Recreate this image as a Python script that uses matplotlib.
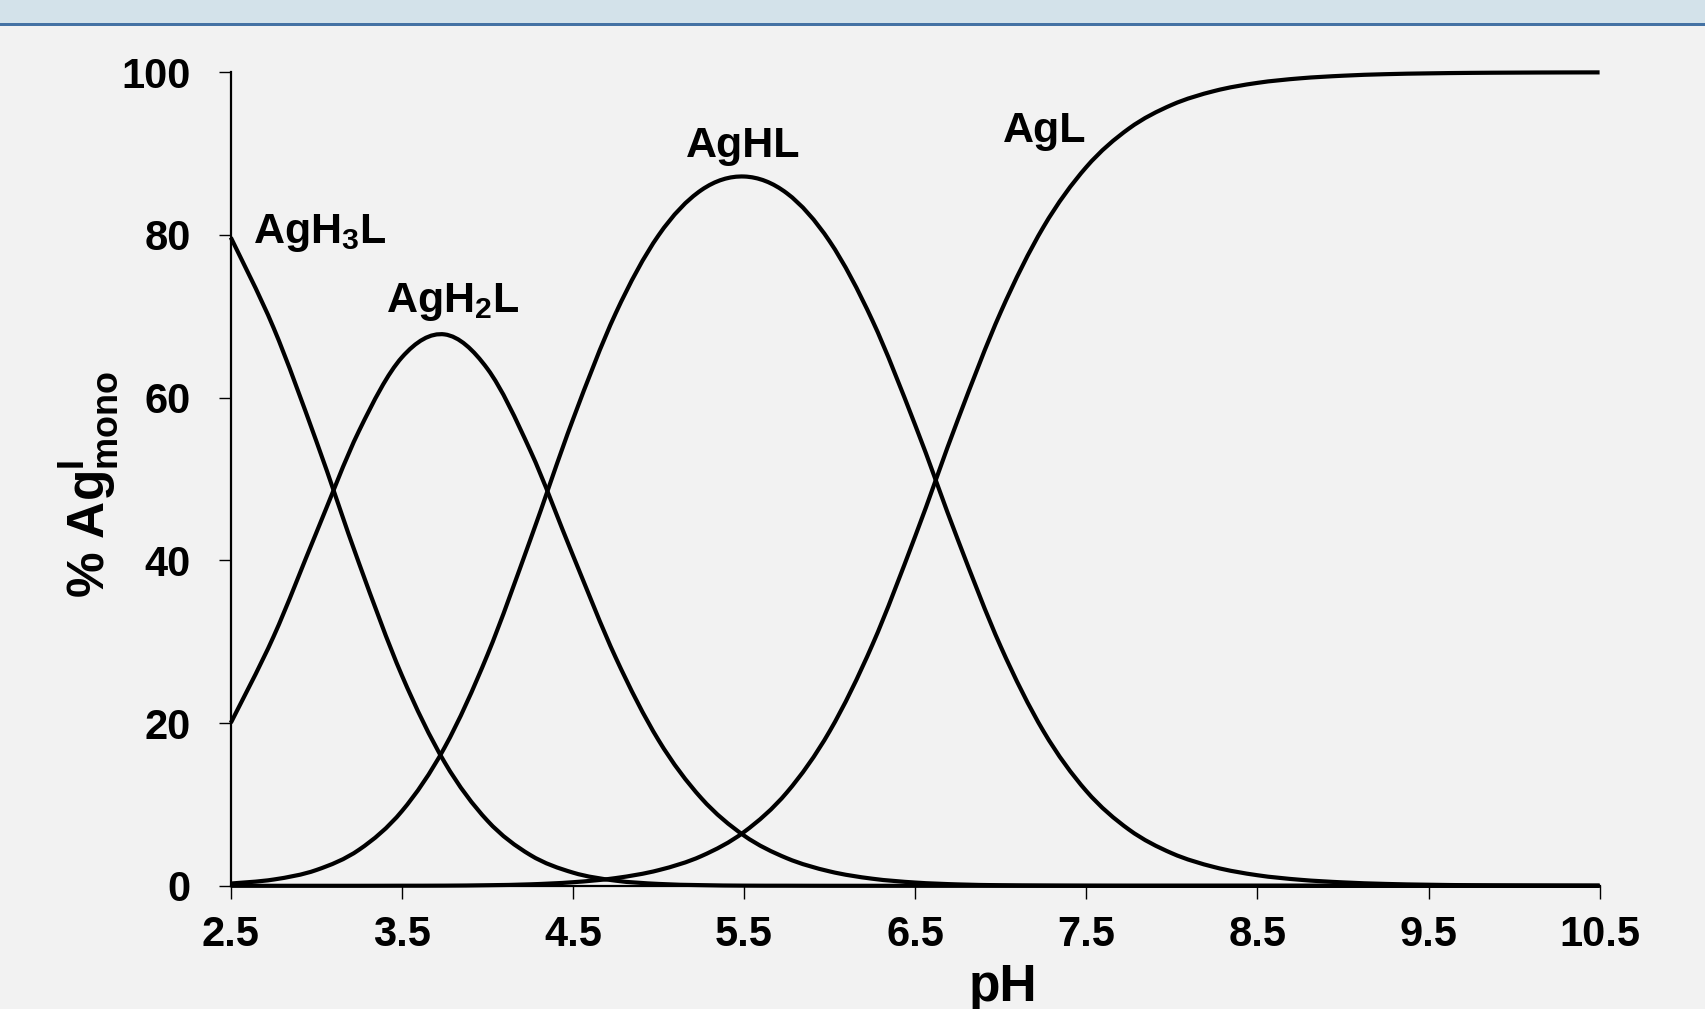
import matplotlib
matplotlib.use("Agg")
import matplotlib.pyplot as plt
from matplotlib.patches import Rectangle, PathPatch
from matplotlib.path import Path

plt.rcParams['font.family'] = ['Liberation Sans', 'DejaVu Sans']
plt.rcParams['font.weight'] = 'bold'
plt.rcParams['mathtext.fontset'] = 'custom'
plt.rcParams['mathtext.rm'] = 'Liberation Sans:bold'
plt.rcParams['mathtext.it'] = 'Liberation Sans:bold'
plt.rcParams['mathtext.bf'] = 'Liberation Sans:bold'

# ---- data ----
ph = [2.5, 2.75, 3.0, 3.25, 3.5, 3.75, 4.0, 4.25, 4.5, 4.75, 5.0, 5.25, 5.5,
      5.75, 6.0, 6.25, 6.5, 6.75, 7.0, 7.25, 7.5, 7.75, 8.0, 8.25, 8.5, 8.75,
      9.0, 9.25, 9.5, 9.75, 10.0, 10.25, 10.5]
agh3l = [79.70, 68.59, 54.65, 39.61, 25.86, 15.17, 8.00, 3.79, 1.62, 0.63, 0.23,
         0.08, 0.02, 0.01, 0, 0, 0, 0, 0, 0, 0, 0, 0, 0, 0, 0, 0, 0, 0, 0, 0, 0, 0]
agh2l = [20.02, 30.64, 43.41, 55.95, 64.96, 67.78, 63.55, 53.52, 40.60, 28.03,
         17.90, 10.77, 6.17, 3.39, 1.77, 0.87, 0.40, 0.17, 0.07, 0.03, 0.01, 0,
         0, 0, 0, 0, 0, 0, 0, 0, 0, 0, 0]
aghl = [0.28, 0.77, 1.94, 4.44, 9.18, 17.02, 28.39, 42.51, 57.34, 70.40, 79.96,
        85.52, 87.19, 85.13, 79.22, 69.48, 56.63, 42.50, 29.40, 18.99, 11.65,
        6.90, 4.00, 2.29, 1.30, 0.74, 0.42, 0.23, 0.13, 0.07, 0.04, 0.02, 0.01]
agl = [0.0, 0.0, 0.0, 0.0, 0.01, 0.02, 0.07, 0.18, 0.44, 0.95, 1.92, 3.65, 6.62,
       11.48, 19.00, 29.64, 42.97, 57.33, 70.53, 81.00, 88.35, 93.10, 96.00,
       97.71, 98.70, 99.26, 99.58, 99.77, 99.87, 99.93, 99.96, 99.98, 99.99]

x_ticks = [2.5, 3.5, 4.5, 5.5, 6.5, 7.5, 8.5, 9.5, 10.5]
x_tick_labels = ['2.5', '3.5', '4.5', '5.5', '6.5', '7.5', '8.5', '9.5', '10.5']
y_ticks = [0, 20, 40, 60, 80, 100]

species_labels = ['AgH$_3$L', 'AgH$_2$L', 'AgHL', 'AgL']
label_x = [2.628, 3.407, 5.160, 7.015]
label_y = [78.98, 70.57, 89.62, 91.47]


def smooth_path(xs, ys):
    """Excel-style smoothed line through the data points (cubic Bezier segments)."""
    n = len(xs)
    verts = [(xs[0], ys[0])]
    codes = [Path.MOVETO]
    for i in range(n - 1):
        i0 = max(i - 1, 0)
        i3 = min(i + 2, n - 1)
        c1 = (xs[i] + (xs[i + 1] - xs[i0]) / 6.0, ys[i] + (ys[i + 1] - ys[i0]) / 6.0)
        c2 = (xs[i + 1] - (xs[i3] - xs[i]) / 6.0, ys[i + 1] - (ys[i3] - ys[i]) / 6.0)
        verts += [c1, c2, (xs[i + 1], ys[i + 1])]
        codes += [Path.CURVE4] * 3
    return Path(verts, codes)


# ---- figure ----
fig = plt.figure(figsize=(17.05, 10.09), dpi=100)
fig.patch.set_facecolor('#f2f2f2')
fig.patches.append(Rectangle((0, 1 - 23 / 1009), 1, 23 / 1009, transform=fig.transFigure,
                             facecolor='#d3e2ea', edgecolor='none', zorder=0))
fig.patches.append(Rectangle((0, 1 - 25.5 / 1009), 1, 2.5 / 1009, transform=fig.transFigure,
                             facecolor='#4472a4', edgecolor='none', zorder=1))

ax = fig.add_axes([230.8 / 1705, 1 - 885.8 / 1009, (1599.6 - 230.8) / 1705, (885.8 - 72.3) / 1009])
ax.set_facecolor('#f2f2f2')

for series in (agh3l, agh2l, aghl, agl):
    patch = PathPatch(smooth_path(ph, series), facecolor='none', edgecolor='black',
                      lw=3.0, clip_on=False, capstyle='butt', joinstyle='round', zorder=3)
    ax.add_patch(patch)

ax.set_xlim(2.5, 10.5)
ax.set_ylim(0, 100)
ax.set_xticks(x_ticks)
ax.set_xticklabels(x_tick_labels)
ax.set_yticks(y_ticks)

for s in ('top', 'right'):
    ax.spines[s].set_visible(False)
for s in ('left', 'bottom'):
    ax.spines[s].set_linewidth(1.6)
    ax.spines[s].set_color('black')

ax.tick_params(axis='both', direction='out', length=9, width=1.0, labelsize=30, colors='black')
ax.tick_params(axis='x', pad=12)
ax.tick_params(axis='y', pad=20)
for lab in ax.get_xticklabels() + ax.get_yticklabels():
    lab.set_fontweight('bold')

for t, xx, yy in zip(species_labels, label_x, label_y):
    ax.text(xx, yy, t, fontsize=31, fontweight='bold', ha='left', va='baseline')

fig.text(1003 / 1705, 1 - 1000.7 / 1009, 'pH', fontsize=37, fontweight='bold',
         ha='center', va='baseline')
fig.text(89.5 / 1705, 1 - 484.5 / 1009, '% Ag$^{I}_{mono}$', fontsize=37, fontweight='bold',
         rotation=90, ha='center', va='center')

fig.savefig('out.png', dpi=100, facecolor=fig.get_facecolor())
